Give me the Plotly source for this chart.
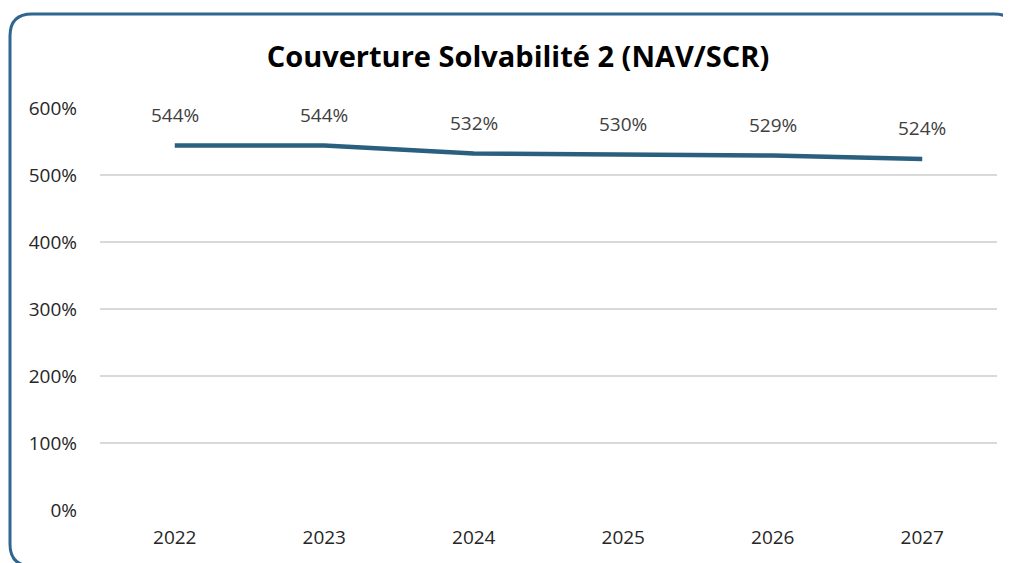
import plotly.graph_objects as go

years = ["2022", "2023", "2024", "2025", "2026", "2027"]
coverage = [544, 544, 532, 530, 529, 524]
label_texts = ["544%", "544%", "532%", "530%", "529%", "524%"]
y_ticks = [0, 100, 200, 300, 400, 500, 600]
y_tick_text = ["0%", "100%", "200%", "300%", "400%", "500%", "600%"]

OFF = 8  # page body margin
W, H = 1011 - OFF, 563 - OFF
ML, MT = 100 - OFF, 108 - OFF
PW, PH = 897, 402
MR, MB = W - ML - PW, H - MT - PH

def px(x):
    return (x - OFF - ML) / PW

def py(y):
    return 1 - (y - OFF - MT) / PH

FONT = "Open Sans"

fig = go.Figure()
fig.add_trace(go.Scatter(
    x=years, y=coverage, mode="lines",
    line=dict(color="#2B5F80", width=4.5),
    hoverinfo="skip", showlegend=False,
))

for i, (v, t) in enumerate(zip(coverage, label_texts)):
    fig.add_annotation(x=i, y=v, xref="x", yref="y", text=t, showarrow=False,
                       yshift=31, font=dict(family=FONT, size=19, color="#404040"))

# rounded border in pixel space
x0, y0, x1, y1, r = 10, 14, 1016, 566, 22
path = (f"M {px(x0)},{py(y0 + r)} "
        f"Q {px(x0)},{py(y0)} {px(x0 + r)},{py(y0)} "
        f"L {px(x1 - r)},{py(y0)} "
        f"Q {px(x1)},{py(y0)} {px(x1)},{py(y0 + r)} "
        f"L {px(x1)},{py(y1 - r)} "
        f"Q {px(x1)},{py(y1)} {px(x1 - r)},{py(y1)} "
        f"L {px(x0 + r)},{py(y1)} "
        f"Q {px(x0)},{py(y1)} {px(x0)},{py(y1 - r)} Z")
fig.add_shape(type="path", path=path, xref="paper", yref="paper",
              line=dict(color="#2F6690", width=3), layer="above")

fig.update_layout(
    width=W, height=H,
    margin=dict(l=ML, r=MR, t=MT, b=MB),
    paper_bgcolor="white", plot_bgcolor="white",
    title=dict(text="<b>Couverture Solvabilité 2 (NAV/SCR)</b>",
               x=(518 - OFF) / W, xref="container", xanchor="center",
               y=1 - (57 - OFF) / H, yref="container", yanchor="middle",
               font=dict(family=FONT, size=29, color="#000000")),
    xaxis=dict(type="category", categoryorder="array", categoryarray=years,
               range=[-0.5, 5.5], autorange=False,
               showgrid=False, zeroline=False, showline=False,
               ticks="", tickfont=dict(family=FONT, size=19, color="#262626"),
               ticklabelstandoff=14),
    yaxis=dict(range=[0, 600], tickvals=y_ticks, ticktext=y_tick_text,
               showgrid=True, gridcolor="#D9D9D9", gridwidth=1.5,
               zeroline=False, showline=False, ticks="",
               tickfont=dict(family=FONT, size=19, color="#262626"),
               ticklabelstandoff=22),
)

fig.write_html("out.html")
